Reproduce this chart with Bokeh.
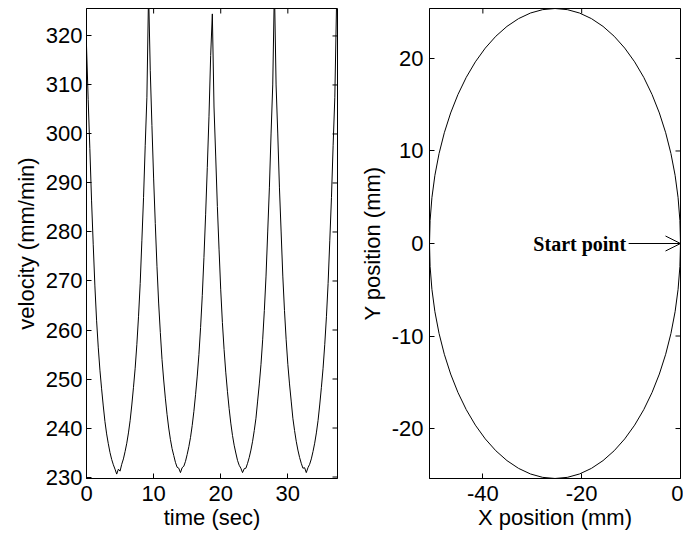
import math
from bokeh.plotting import figure
from bokeh.layouts import row
from bokeh.models import Range1d, FixedTicker, Arrow, OpenHead, Label, PrintfTickFormatter
from bokeh.embed import file_html
from bokeh.resources import INLINE

# ---------------- data ----------------
time_step = 0.25  # sampling interval of the velocity record (sec)
velocity = [
    318, 307, 297, 286.5, 277.5, 269, 262, 256.5, 251.8, 248, 244.5, 241.3, 238.8, 236.8, 235, 233.6, 232.5, 231.6, 230.6,
    231.6, 231.2, 232.6, 233.7, 235.2, 236.9, 239, 241.5, 244.7, 248.3, 252.2, 257, 262.7, 269.5, 278.2, 287, 297.7, 307.5, 329,
    313, 301.7, 291, 281.7, 273, 265.5, 259.5, 254, 249.8, 246.1, 242.8, 240, 237.7, 235.8, 234.4, 233, 232, 231.8, 230.9,
    231.9, 232.2, 233.2, 234.6, 236.2, 238.1, 240.5, 243.4, 246.8, 250.6, 255, 260.5, 267, 274.8, 283.5, 293.2, 303.5, 316, 324.5,
    305.5, 295.5, 285.2, 276.5, 268.2, 261.5, 256, 251.4, 247.5, 244, 241, 238.5, 236.5, 234.9, 233.4, 232.4, 231.8, 230.9,
    231.7, 231.8, 232.8, 234, 235.5, 237.3, 239.5, 242, 245.5, 249, 253, 258, 264, 271, 280, 289, 300, 310, 330,
    310, 300, 289, 280, 271, 264, 258, 253, 249, 245.5, 242, 239.5, 237.3, 235.5, 234, 232.8, 231.8, 231.9, 230.9,
    231.9, 232.6, 233.7, 235.2, 236.9, 239, 241.5, 244.7, 248.3, 252.2, 257, 262.7, 269.5, 278.2, 287, 297.7, 307.5, 326,
]
time = [i * time_step for i in range(len(velocity))]

vel_xrange = (0, 37.4)
vel_yrange = (229.7, 325.6)
vel_xticks = [0, 10, 20, 30]
vel_yticks = [230, 240, 250, 260, 270, 280, 290, 300, 310, 320]

# path: circle of radius 25.4 mm, starting at (0, 0)
path_center_x = [-25.4]
path_center_y = [0.0]
path_width = [50.8]
path_height = [50.8]
pos_xrange = (-50.8, 0)
pos_yrange = (-25.4, 25.4)
pos_xticks = [-40, -20, 0]
pos_yticks = [-20, -10, 0, 10, 20]
start_point = (0.0, 0.0)
start_label = "Start point"

FONT = "Liberation Sans"
FS = "22px"


def style(p, xticks, yticks, xr, yr, xlabel, ylabel, ystand):
    p.grid.visible = False
    p.outline_line_color = "black"
    p.outline_line_width = 1
    p.xaxis.ticker = FixedTicker(ticks=xticks)
    p.yaxis.ticker = FixedTicker(ticks=yticks)
    p.xaxis.formatter = PrintfTickFormatter(format="%d")
    p.yaxis.formatter = PrintfTickFormatter(format="%d")
    p.xaxis.axis_label = xlabel
    p.yaxis.axis_label = ylabel
    for ax in (p.xaxis, p.yaxis):
        ax.major_tick_in = 5
        ax.major_tick_out = 0
        ax.minor_tick_line_color = None
        ax.axis_line_color = "black"
        ax.major_tick_line_color = "black"
        ax.major_label_text_font = FONT
        ax.major_label_text_font_size = FS
        ax.major_label_text_color = "black"
        ax.axis_label_text_font = FONT
        ax.axis_label_text_font_size = FS
        ax.axis_label_text_font_style = "normal"
        ax.axis_label_text_color = "black"
    p.xaxis.major_label_standoff = 7
    p.xaxis.axis_label_standoff = 1
    p.yaxis.major_label_standoff = ystand
    p.yaxis.axis_label_standoff = 4
    # mirrored inward ticks on the top and right edges (box style)
    p.scatter(x=xticks, y=[yr[1]] * len(xticks), marker="dash", angle=math.pi / 2,
              size=10, line_color="black", line_width=1)
    p.scatter(x=[xr[1]] * len(yticks), y=yticks, marker="dash",
              size=10, line_color="black", line_width=1)


# ---------------- left: velocity ----------------
p1 = figure(width=347, height=536, output_backend="svg", toolbar_location=None,
            x_range=Range1d(*vel_xrange), y_range=Range1d(*vel_yrange),
            min_border_left=86, min_border_right=10, min_border_top=8, min_border_bottom=58)
p1.line(time, velocity, line_color="black", line_width=1)
style(p1, vel_xticks, vel_yticks, vel_xrange, vel_yrange, "time (sec)", "velocity (mm/min)", 4)

# ---------------- right: XY path ----------------
p2 = figure(width=336, height=536, output_backend="svg", toolbar_location=None,
            x_range=Range1d(*pos_xrange), y_range=Range1d(*pos_yrange),
            min_border_left=82, min_border_right=3, min_border_top=8, min_border_bottom=58)
p2.ellipse(x=path_center_x, y=path_center_y, width=path_width, height=path_height,
           fill_color=None, line_color="black", line_width=1)
p2.add_layout(Arrow(end=OpenHead(size=15, line_width=1, line_color="black"),
                    x_start=start_point[0] - 10.5, y_start=start_point[1],
                    x_end=start_point[0], y_end=start_point[1],
                    line_width=1, line_color="black"))
p2.add_layout(Label(x=start_point[0] - 11.0, y=start_point[1], text=start_label,
                    text_align="right", text_baseline="middle",
                    text_font="Liberation Serif", text_font_style="bold",
                    text_font_size="20px", text_color="black"))
style(p2, pos_xticks, pos_yticks, pos_xrange, pos_yrange, "X position (mm)", "Y position (mm)", 6)

layout = row(p1, p2)
open("out.html", "w").write(file_html(layout, INLINE, "plot"))
